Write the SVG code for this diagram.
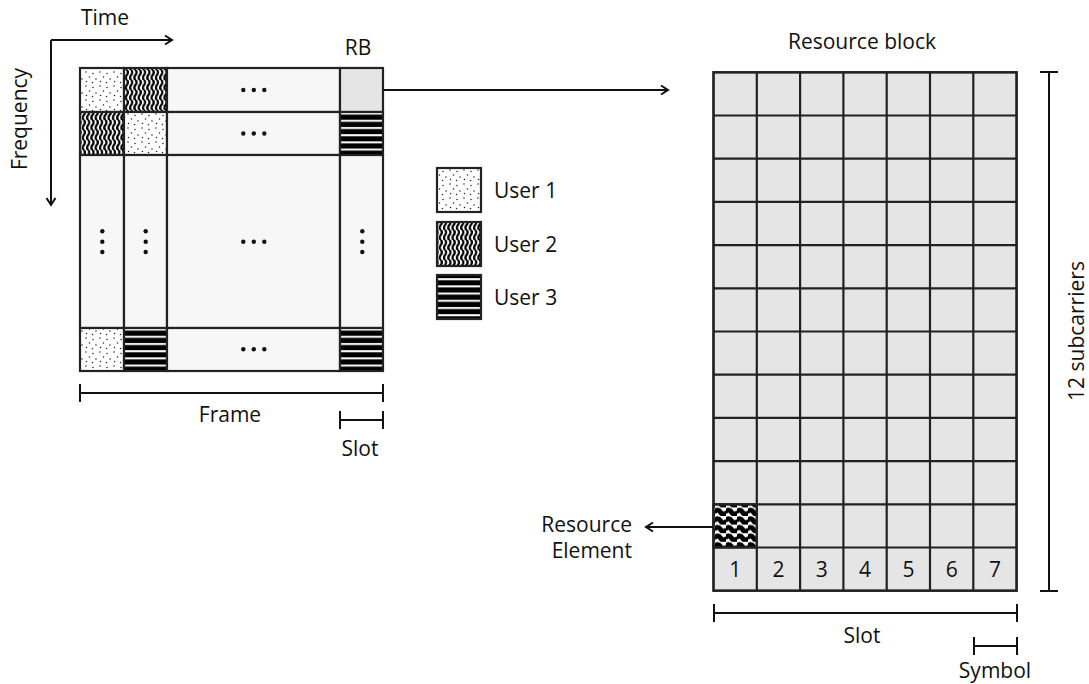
<svg xmlns="http://www.w3.org/2000/svg" width="1089" height="684" viewBox="0 0 1089 684">
<style>
text{font-family:"Open Sans","Noto Sans","DejaVu Sans",sans-serif;font-size:21px;fill:#111}
.mid{text-anchor:middle}
.cell{stroke:#222;stroke-width:2.2}
.lt{fill:#f7f7f7}
.gr{fill:#e5e5e5}
.ln{stroke:#111;stroke-width:2;fill:none}
.dot{fill:#111}
</style>
<defs>
<pattern id="p1" width="14" height="14" patternUnits="userSpaceOnUse">
<rect width="14" height="14" fill="#fff"/>
<g fill="#222">
<circle cx="2" cy="2" r="0.75"/><circle cx="9" cy="3.5" r="0.75"/><circle cx="5.5" cy="7" r="0.75"/><circle cx="12" cy="9" r="0.75"/><circle cx="2.5" cy="11.5" r="0.75"/><circle cx="8.5" cy="12.5" r="0.75"/>
</g>
</pattern>
<pattern id="p2" width="4.3" height="10" patternUnits="userSpaceOnUse">
<rect width="4.3" height="10" fill="#fff"/>
<path d="M2.15,-0.5 C3.5,1.5 3.5,3.5 2.15,5 C0.8,6.5 0.8,8.5 2.15,10.5" fill="none" stroke="#000" stroke-width="2.2"/>
</pattern>
<pattern id="p3" width="10" height="7.2" patternUnits="userSpaceOnUse">
<rect width="10" height="7.2" fill="#000"/>
<rect y="4.6" width="10" height="2" fill="#fff"/>
</pattern>
<pattern id="p4" width="11" height="8.6" patternUnits="userSpaceOnUse">
<rect width="11" height="8.6" fill="#fff"/>
<path d="M-1,4.8 Q2.75,0.8 5.5,4.8 T12,4.8" fill="none" stroke="#000" stroke-width="5"/>
</pattern>
<marker id="ah" markerWidth="12" markerHeight="12" refX="10" refY="6" orient="auto" markerUnits="userSpaceOnUse">
<path d="M3,1.5 L10,6 L3,10.5" fill="none" stroke="#111" stroke-width="2"/>
</marker>
</defs>
<rect width="1089" height="684" fill="#fff"/>

<g id="axes">
<text x="105" y="25" class="mid">Time</text>
<text transform="translate(27,119) rotate(-90)" class="mid">Frequency</text>
</g>

<g id="frame-grid">
<rect class="cell" x="80" y="68" width="44" height="44" fill="url(#p1)"/>
<rect class="cell" x="124" y="68" width="43" height="44" fill="url(#p2)"/>
<rect class="cell lt" x="167" y="68" width="173" height="44"/>
<rect class="cell gr" x="340" y="68" width="43" height="44"/>
<rect class="cell" x="80" y="112" width="44" height="43" fill="url(#p2)"/>
<rect class="cell" x="124" y="112" width="43" height="43" fill="url(#p1)"/>
<rect class="cell lt" x="167" y="112" width="173" height="43"/>
<rect class="cell" x="340" y="112" width="43" height="43" fill="url(#p3)"/>
<rect class="cell lt" x="80" y="155" width="44" height="173"/>
<rect class="cell lt" x="124" y="155" width="43" height="173"/>
<rect class="cell lt" x="167" y="155" width="173" height="173"/>
<rect class="cell lt" x="340" y="155" width="43" height="173"/>
<rect class="cell" x="80" y="328" width="44" height="43" fill="url(#p1)"/>
<rect class="cell" x="124" y="328" width="43" height="43" fill="url(#p3)"/>
<rect class="cell lt" x="167" y="328" width="173" height="43"/>
<rect class="cell" x="340" y="328" width="43" height="43" fill="url(#p3)"/>
<g class="dot">
<circle cx="243.3" cy="90" r="2.2"/><circle cx="253.8" cy="90" r="2.2"/><circle cx="264.3" cy="90" r="2.2"/>
<circle cx="243.3" cy="133.5" r="2.2"/><circle cx="253.8" cy="133.5" r="2.2"/><circle cx="264.3" cy="133.5" r="2.2"/>
<circle cx="243.3" cy="241.7" r="2.2"/><circle cx="253.8" cy="241.7" r="2.2"/><circle cx="264.3" cy="241.7" r="2.2"/>
<circle cx="243.3" cy="349.3" r="2.2"/><circle cx="253.8" cy="349.3" r="2.2"/><circle cx="264.3" cy="349.3" r="2.2"/>
<circle cx="102.3" cy="231.3" r="2.2"/><circle cx="102.3" cy="241.7" r="2.2"/><circle cx="102.3" cy="252" r="2.2"/>
<circle cx="145.7" cy="231.3" r="2.2"/><circle cx="145.7" cy="241.7" r="2.2"/><circle cx="145.7" cy="252" r="2.2"/>
<circle cx="362.3" cy="231.3" r="2.2"/><circle cx="362.3" cy="241.7" r="2.2"/><circle cx="362.3" cy="252" r="2.2"/>
</g>
<text x="358" y="55" class="mid">RB</text>
</g>

<g id="frame-dims">
<path class="ln" d="M80,393 H383 M80,384 V402 M383,384 V402"/>
<text x="230" y="422" class="mid">Frame</text>
<path class="ln" d="M340,420 H383 M340,411 V429 M383,411 V429"/>
<text x="360" y="456" class="mid">Slot</text>
</g>

<g id="legend">
<rect class="cell" x="437" y="168" width="44" height="44" fill="url(#p1)"/>
<text x="494" y="198">User 1</text>
<rect class="cell" x="437" y="222" width="44" height="44" fill="url(#p2)"/>
<text x="494" y="252">User 2</text>
<rect class="cell" x="437" y="275" width="44" height="44" fill="url(#p3)"/>
<text x="494" y="305">User 3</text>
</g>

<g id="resource-block">
<text x="862" y="49" class="mid">Resource block</text>
<rect class="cell gr" x="713.5" y="72.3" width="303.1" height="518.4"/>
<rect class="cell" x="713.5" y="504.3" width="43.3" height="43.2" fill="url(#p4)"/>
<path class="cell" fill="none" d="M756.8,72.3V590.7 M800.1,72.3V590.7 M843.4,72.3V590.7 M886.7,72.3V590.7 M930,72.3V590.7 M973.3,72.3V590.7
M713.5,115.5H1016.6 M713.5,158.7H1016.6 M713.5,201.9H1016.6 M713.5,245.1H1016.6 M713.5,288.3H1016.6 M713.5,331.5H1016.6 M713.5,374.7H1016.6 M713.5,417.9H1016.6 M713.5,461.1H1016.6 M713.5,504.3H1016.6 M713.5,547.5H1016.6"/>
<rect class="cell" x="713.5" y="72.3" width="303.1" height="518.4" fill="none"/>
<g class="mid">
<text x="735.2" y="577">1</text><text x="778.5" y="577">2</text><text x="821.8" y="577">3</text><text x="865.1" y="577">4</text><text x="908.4" y="577">5</text><text x="951.7" y="577">6</text><text x="995" y="577">7</text>
</g>
</g>

<g id="rb-dims">
<path class="ln" d="M1049,72 V591 M1040,72 H1058 M1040,591 H1058"/>
<text transform="translate(1084,331) rotate(-90)" class="mid">12 subcarriers</text>
<path class="ln" d="M714,613 H1017 M714,604 V622 M1017,604 V622"/>
<text x="862" y="643" class="mid">Slot</text>
<path class="ln" d="M974,646 H1017 M974,637 V655 M1017,637 V655"/>
<text x="995" y="678" class="mid">Symbol</text>
</g>

<g id="re-label">
<text x="632" y="532" text-anchor="end">Resource</text>
<text x="632" y="558" text-anchor="end">Element</text>
</g>

<g id="connectors">
<path class="ln" d="M51,40 H172" marker-end="url(#ah)"/>
<path class="ln" d="M51,40 V205" marker-end="url(#ah)"/>
<path class="ln" d="M383,90 H668" marker-end="url(#ah)"/>
<path class="ln" d="M713,527 H646" marker-end="url(#ah)"/>
</g>
</svg>
